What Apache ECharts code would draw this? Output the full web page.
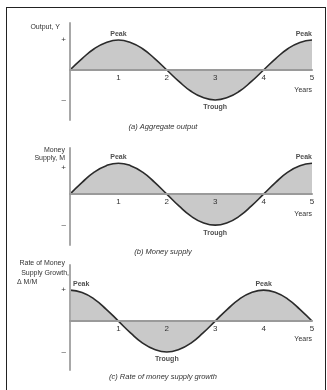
<!DOCTYPE html>
<html>
<head>
<meta charset="utf-8">
<script src="https://cdn.jsdelivr.net/npm/echarts@6/dist/echarts.min.js"></script>
<style>
html,body{margin:0;padding:0;background:#fff;}
#wrap{position:relative;width:327px;height:390px;}
#chart{position:absolute;left:0;top:0;width:327px;height:390px;}
#frame{position:absolute;left:6px;top:7px;width:318px;height:390px;border-left:1.5px solid #222;border-top:1.5px solid #222;border-right:1.5px solid #222;pointer-events:none;}
</style>
</head>
<body>
<div id="wrap"><div id="chart"></div><div id="frame"></div></div>
<script>
// Years (x values), every quarter year
const years = [0,0.25,0.5,0.75,1,1.25,1.5,1.75,2,2.25,2.5,2.75,3,3.25,3.5,3.75,4,4.25,4.5,4.75,5];
// (a) Aggregate output
const outputY = [0,0.38,0.71,0.92,1,0.92,0.71,0.38,0,-0.38,-0.71,-0.92,-1,-0.92,-0.71,-0.38,0,0.38,0.71,0.92,1];
// (b) Money supply
const moneyM = [0,0.38,0.71,0.92,1,0.92,0.71,0.38,0,-0.38,-0.71,-0.92,-1,-0.92,-0.71,-0.38,0,0.38,0.71,0.92,1];
// (c) Rate of money supply growth
const growth = [1,0.92,0.71,0.38,0,-0.38,-0.71,-0.92,-1,-0.92,-0.71,-0.38,0,0.38,0.71,0.92,1,0.92,0.71,0.38,0];
// Peak / trough annotations [year, value]
const peaksA = [[1,1],[5,1]];
const troughsA = [[3,-1]];
const peaksB = [[1,1],[5,1]];
const troughsB = [[3,-1]];
const peaksC = [[0,1],[4,1]];
const troughsC = [[2,-1]];
const xTicks = ['','1','2','3','4','5'];

const FONT = '"Liberation Sans", Arial, sans-serif';
const chart = echarts.init(document.getElementById('chart'), null, {renderer:'canvas'});

const grids = [
  {left:70, width:242, top:23, height:97},
  {left:70, width:242, top:148, height:97},
  {left:70, width:242, top:265, height:105}
];
const yRanges = [[-1.67,1.57],[-1.64,1.49],[-1.58,1.81]];
const plusVals = [1, 0.85, 1];

function zeroOffset(i){
  const g = grids[i], r = yRanges[i];
  return -g.height * (-r[0]) / (r[1] - r[0]);
}
function xAxis(i){
  return {
    type:'value', gridIndex:i, min:0, max:5, interval:1, z:5, position:'bottom',
    offset: zeroOffset(i),
    axisLine:{onZero:false, lineStyle:{color:'#9a9a9a', width:2}},
    axisTick:{show:false}, splitLine:{show:false},
    axisLabel:{margin:4, fontSize:8, color:'#333', fontFamily:FONT,
      formatter:(v)=>xTicks[Math.round(v)]}
  };
}
function yAxis(i){
  return {
    type:'value', gridIndex:i, min:yRanges[i][0], max:yRanges[i][1], z:5,
    axisLine:{show:true, onZero:false, lineStyle:{color:'#a8a8a8', width:2}},
    axisTick:{show:false}, splitLine:{show:false},
    axisLabel:{customValues:[-1, plusVals[i]], margin:4, fontSize:8, color:'#333', fontFamily:FONT,
      formatter:(v)=> v>0 ? '+' : '–'}
  };
}
function curve(i, vals){
  return {
    type:'line', xAxisIndex:i, yAxisIndex:i, smooth:0.5, showSymbol:false, silent:true,
    data: years.map((x,k)=>[x, vals[k]]),
    lineStyle:{color:'#2b2b2b', width:1.6},
    areaStyle:{color:'#c9c9c9', opacity:1},
    z:2
  };
}
const labStyle = {fontSize:7, fontWeight:'bold', color:'#222', fontFamily:FONT};
function marks(i, pts, pos, aligns, offsets){
  return {
    type:'scatter', xAxisIndex:i, yAxisIndex:i, symbolSize:0, silent:true, z:6,
    data: pts.map((p,k)=>({value:p, label:Object.assign({show:true, position:pos,
      distance: pos==='top'?3:4, formatter: pos==='top'?'Peak':'Trough',
      align: aligns ? aligns[k] : 'center', offset: offsets ? offsets[k] : [0,0]}, labStyle)}))
  };
}

const txt = (x,y,text,align,extra)=>({type:'text', x:x, y:y, z:10,
  style:Object.assign({text:text, align:align, verticalAlign:'middle', font:'7px '+FONT, fill:'#333'}, extra||{})});
const capFont = {font:'italic 7.5px '+FONT};

chart.setOption({
  animation:false,
  grid: grids,
  xAxis: [xAxis(0), xAxis(1), xAxis(2)],
  yAxis: [yAxis(0), yAxis(1), yAxis(2)],
  series: [
    curve(0, outputY), curve(1, moneyM), curve(2, growth),
    marks(0, peaksA, 'top', ['center','right']),
    marks(0, troughsA, 'bottom'),
    marks(1, peaksB, 'top', ['center','right']),
    marks(1, troughsB, 'bottom'),
    marks(2, peaksC, 'top', ['left','center'], [[3,0],[0,0]]),
    marks(2, troughsC, 'bottom')
  ],
  graphic: [
    txt(60, 27, 'Output, Y', 'right'),
    txt(312, 90, 'Years', 'right'),
    txt(163, 127, '(a) Aggregate output', 'center', capFont),
    txt(65, 150, 'Money', 'right'),
    txt(65, 158, 'Supply, M', 'right'),
    txt(312, 214, 'Years', 'right'),
    txt(163, 252, '(b) Money supply', 'center', capFont),
    txt(65, 263, 'Rate of Money', 'right'),
    txt(69, 273, 'Supply Growth,', 'right'),
    txt(17, 282, 'Δ M/M', 'left'),
    txt(312, 339, 'Years', 'right'),
    txt(163, 377, '(c) Rate of money supply growth', 'center', capFont)
  ]
});
</script>
</body>
</html>
